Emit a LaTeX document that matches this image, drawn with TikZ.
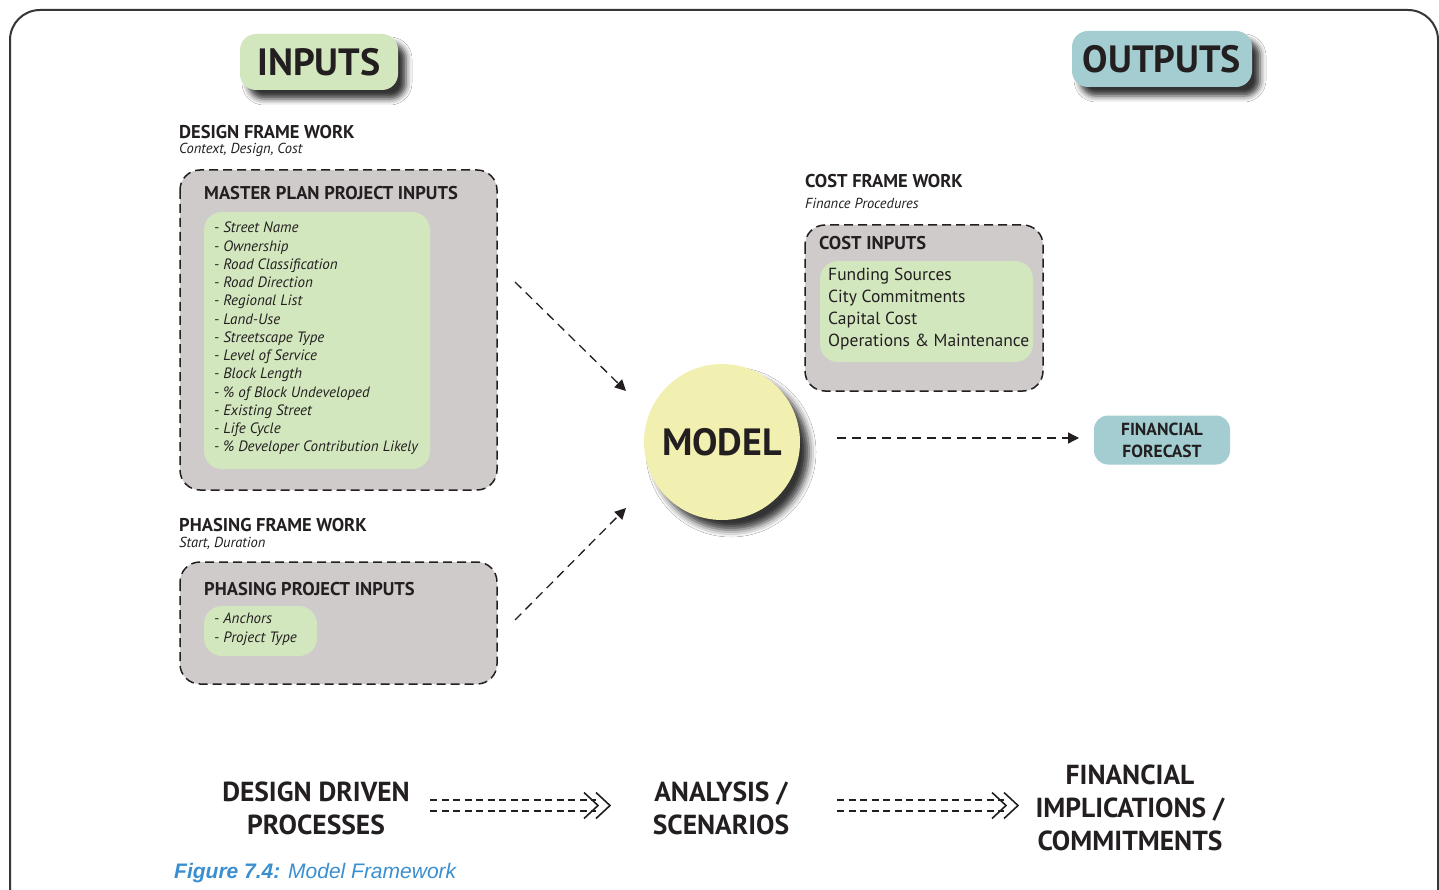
\documentclass[tikz,border=0pt]{standalone}
\usepackage{fontspec}
\setmainfont{PT Sans}
\newfontfamily\capfont{Liberation Sans}
\usetikzlibrary{shadows.blur,arrows.meta}
\definecolor{ink}{HTML}{231F20}
\definecolor{boxgray}{HTML}{CFCBCB}
\definecolor{leaf}{HTML}{D3E7BF}
\definecolor{teal}{HTML}{A3CDD0}
\definecolor{lemon}{HTML}{F2F0B0}
\definecolor{capblue}{HTML}{3A8FD0}
\tikzset{
  txt/.style={anchor=base west,inner sep=0pt,text=ink},
  head/.style={txt,font=\fontsize{18.5}{20}\selectfont\bfseries},
  sub/.style={txt,font=\fontsize{14.5}{16}\selectfont\itshape},
  dashbox/.style={draw=ink,fill=boxgray,line width=1.5pt,dash pattern=on 9pt off 5pt,rounded corners=20pt},
  leafbox/.style={fill=leaf,rounded corners=18pt},
  bigtag/.style={rounded corners=16pt,inner sep=0pt,text=ink,font=\fontsize{38}{40}\selectfont\bfseries,blur shadow={shadow xshift=8pt,shadow yshift=-9pt,shadow blur radius=6pt,shadow opacity=80}},
  flow/.style={draw=ink,line width=1.3pt,dash pattern=on 9pt off 6pt,-{Triangle[length=11pt,width=11pt]}},
  dflow/.style={draw=ink,line width=1.3pt,dash pattern=on 7pt off 4.5pt},
  chev/.style={line width=1.6pt,draw=ink},
  step3/.style={align=center,inner sep=0pt,text=ink,font=\fontsize{27.5}{33}\selectfont\bfseries},
}
\begin{document}
\begin{tikzpicture}[x=1pt,y=-1pt]
\useasboundingbox (0,0) rectangle (1439,890);
\fill[white] (0,0) rectangle (1439,890);
\begin{scope}
\clip (0,0) rectangle (1439,890);
\draw[line width=2pt,draw=ink!90,rounded corners=30pt] (10,930) -- (10,10) -- (1438,10) -- (1438,930);
\end{scope}

% tags
\node[bigtag,fill=leaf,minimum width=158pt,minimum height=56pt] (inputs) at (319,62) {INPUTS};
\node[bigtag,fill=teal,minimum width=180pt,minimum height=56pt] (outputs) at (1162,59) {OUTPUTS};

% design frame work
\node[head] (dfw) at (179,139) {DESIGN FRAME WORK};
\node[sub] (dfwsub) at (179,154) {Context, Design, Cost};
\path[dashbox] (180,170) rectangle (497,490);
\node[head] (mp) at (204,200) {MASTER PLAN PROJECT INPUTS};
\path[leafbox] (204,212) rectangle (430,469);
\node[txt,font=\fontsize{15}{18.25}\selectfont\itshape,align=left,anchor=north west] (mplist) at (214,222) {- Street Name\\- Ownership\\- Road Classification\\- Road Direction\\- Regional List\\- Land-Use\\- Streetscape Type\\- Level of Service\\- Block Length\\- \% of Block Undeveloped\\- Existing Street\\- Life Cycle\\- \% Developer Contribution Likely};

% phasing
\node[head] (pfw) at (179,531) {PHASING FRAME WORK};
\node[sub] (pfwsub) at (179,547) {Start, Duration};
\path[dashbox] (180,562) rectangle (497,684);
\node[head] (pp) at (204,595) {PHASING PROJECT INPUTS};
\path[leafbox] (204,606) rectangle (317,656);
\node[txt,font=\fontsize{15}{18.25}\selectfont\itshape,align=left,anchor=north west] (pplist) at (214,613) {- Anchors\\- Project Type};

% cost
\node[head] (cfw) at (805,188) {COST FRAME WORK};
\node[sub] (cfwsub) at (805,209) {Finance Procedures};
\path[dashbox] (805,225) rectangle (1043,391);
\node[head] (ci) at (819,250) {COST INPUTS};
\path[leafbox] (820,261) rectangle (1033,362);
\node[txt,font=\fontsize{17.5}{22}\selectfont,align=left,anchor=north west] (cilist) at (828,268) {Funding Sources\\City Commitments\\Capital Cost\\Operations \& Maintenance};

% model
\node[circle,fill=lemon,minimum size=156pt,inner sep=0pt,text=ink,font=\fontsize{38}{40}\selectfont\bfseries,blur shadow={shadow xshift=9pt,shadow yshift=-10pt,shadow blur radius=7pt,shadow opacity=80}] (model) at (722,442) {MODEL};

% forecast
\node[rounded corners=14pt,fill=teal,minimum width=136pt,minimum height=49pt,align=center,text=ink,font=\fontsize{17.5}{22}\selectfont\bfseries,inner sep=0pt] (fc) at (1162,440) {FINANCIAL\\FORECAST};

% arrows
\coordinate (a1s) at (515,282);
\coordinate (a1e) at (626,391);
\coordinate (a2s) at (515,620);
\coordinate (a2e) at (626,508);
\coordinate (a3s) at (837,438);
\coordinate (a3e) at (1079,438);
\draw[flow] (a1s) -- (a1e);
\draw[flow] (a2s) -- (a2e);
\draw[flow] (a3s) -- (a3e);

% bottom row
\node[step3] (dd) at (316,808) {DESIGN DRIVEN\\PROCESSES};
\node[step3] (an) at (721,808) {ANALYSIS /\\SCENARIOS};
\node[step3] (fi) at (1130,808) {FINANCIAL\\IMPLICATIONS /\\COMMITMENTS};

\coordinate (b1s) at (430,805.5);
\coordinate (b1e) at (610,805.5);
\coordinate (b2s) at (837,805.5);
\coordinate (b2e) at (1018,805.5);
\foreach \s/\e in {b1s/b1e,b2s/b2e}{
  \draw[dflow] ([yshift=-5.5pt]\s) -- ([xshift=-14pt,yshift=-5.5pt]\e);
  \draw[dflow] ([yshift=5.5pt]\s) -- ([xshift=-14pt,yshift=5.5pt]\e);
  \draw[chev] ([xshift=-26pt,yshift=-13pt]\e) -- ([xshift=-12pt]\e) -- ([xshift=-26pt,yshift=13pt]\e);
  \draw[chev] ([xshift=-14pt,yshift=-13pt]\e) -- (\e) -- ([xshift=-14pt,yshift=13pt]\e);
}

% caption
\node[anchor=base west,inner sep=0pt,text=capblue,font=\capfont\fontsize{21}{23}\selectfont] (cap) at (174,878) {\textbf{\textit{Figure 7.4:}} \textit{Model Framework}};
\end{tikzpicture}
\end{document}
